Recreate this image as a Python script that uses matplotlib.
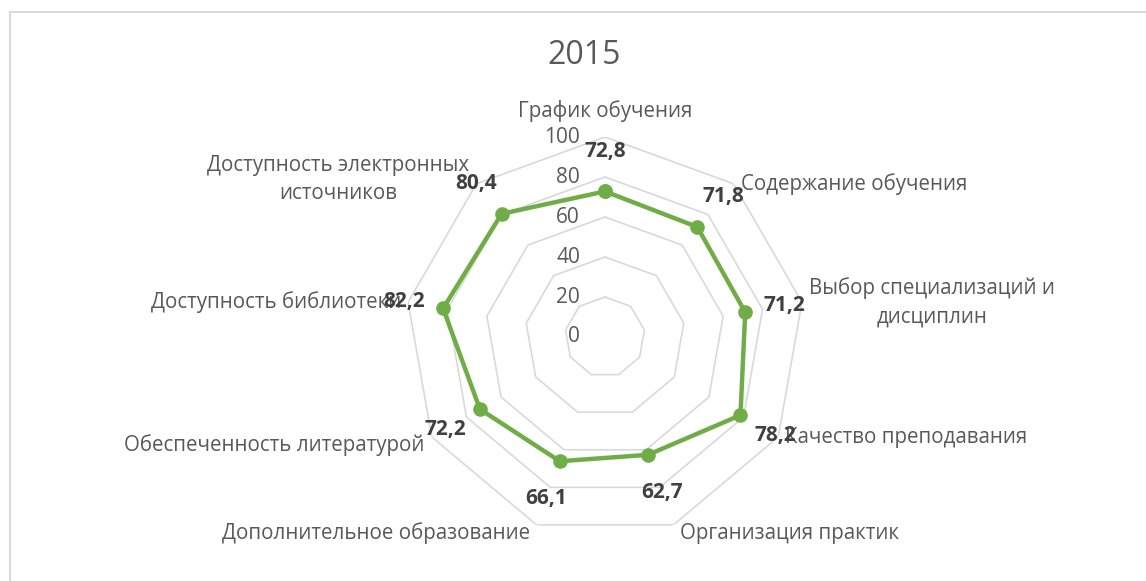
import numpy as np
import matplotlib
matplotlib.use('Agg')
import matplotlib.pyplot as plt
from matplotlib.patches import Rectangle

plt.rcParams['font.family'] = ['Open Sans', 'DejaVu Sans']

# данные
kategorii = ['График обучения', 'Содержание обучения', 'Выбор специализаций и\nдисциплин',
             'Качество преподавания', 'Организация практик', 'Дополнительное образование',
             'Обеспеченность литературой', 'Доступность библиотеки',
             'Доступность электронных\nисточников']
znacheniya = [72.8, 71.8, 71.2, 78.2, 62.7, 66.1, 72.2, 82.2, 80.4]
urovni = [20, 40, 60, 80, 100]
podpisi_osi = ['0', '20', '40', '60', '80', '100']
zagolovok = '2015'

zelenyj = '#70AD47'
seryj = '#D9D9D9'
tekst = '#595959'

n = len(kategorii)
ugly = np.arange(n) * 2 * np.pi / n
ugly_z = np.append(ugly, ugly[0])

fig = plt.figure(figsize=(11.46, 5.81), dpi=100)
fig.add_artist(Rectangle((9.5 / 1146, -0.1), 1.2, 1 - 12 / 581 + 0.1, transform=fig.transFigure,
                         fill=False, edgecolor=seryj, lw=1.5))
fig.text(584 / 1146, 1 - 55 / 581, zagolovok, ha='center', va='center', fontsize=23, color=tekst)

ax = fig.add_axes([405 / 1146, 44 / 581, 400 / 1146, 400 / 581], projection='polar')
ax.set_theta_zero_location('N')
ax.set_theta_direction(-1)
ax.set_ylim(0, 100)
ax.grid(False)
ax.set_xticks([])
ax.set_yticks([])
ax.spines['polar'].set_visible(False)
ax.patch.set_alpha(0)

# сетка-многоугольники
for u in urovni:
    ax.plot(ugly_z, [u] * (n + 1), color=seryj, lw=1.2, zorder=1)

# подписи оси значений
for p in podpisi_osi:
    ax.annotate(p, xy=(0, float(p)), xytext=(-18, 0), textcoords='offset points',
                ha='right', va='center', fontsize=15, color=tekst)

# ряд
vals_z = np.append(znacheniya, znacheniya[0])
ax.plot(ugly_z, vals_z, color=zelenyj, lw=3.2, marker='o', markersize=9.5, zorder=3)

# подписи данных
for a, v in zip(ugly, znacheniya):
    ax.annotate(f'{v:.1f}'.replace('.', ','), xy=(a, v),
                xytext=(28.8 * np.sin(a), 28.8 * np.cos(a)), textcoords='offset points',
                ha='center', va='center', fontsize=15, fontweight='bold', color='#404040', zorder=4)

# подписи категорий
for a, k in zip(ugly, kategorii):
    s = np.sin(a)
    c = np.cos(a)
    if abs(s) < 0.1:
        ha, va, dx, dy = 'center', 'bottom', 0, 11
    elif s > 0:
        ha, va, dx, dy = 'left', 'center', 5, 0
    else:
        ha, va, dx, dy = 'right', 'center', -5, 0
    if c < -0.5:
        dy = -6
    if '\n' in k and s < 0:
        dy = 3
    ax.annotate(k, xy=(a, 100), xytext=(dx, dy), textcoords='offset points',
                ha=ha, va=va, multialignment='center', linespacing=1.45,
                fontsize=14.8, color=tekst)

fig.savefig('out.png', dpi=100)
